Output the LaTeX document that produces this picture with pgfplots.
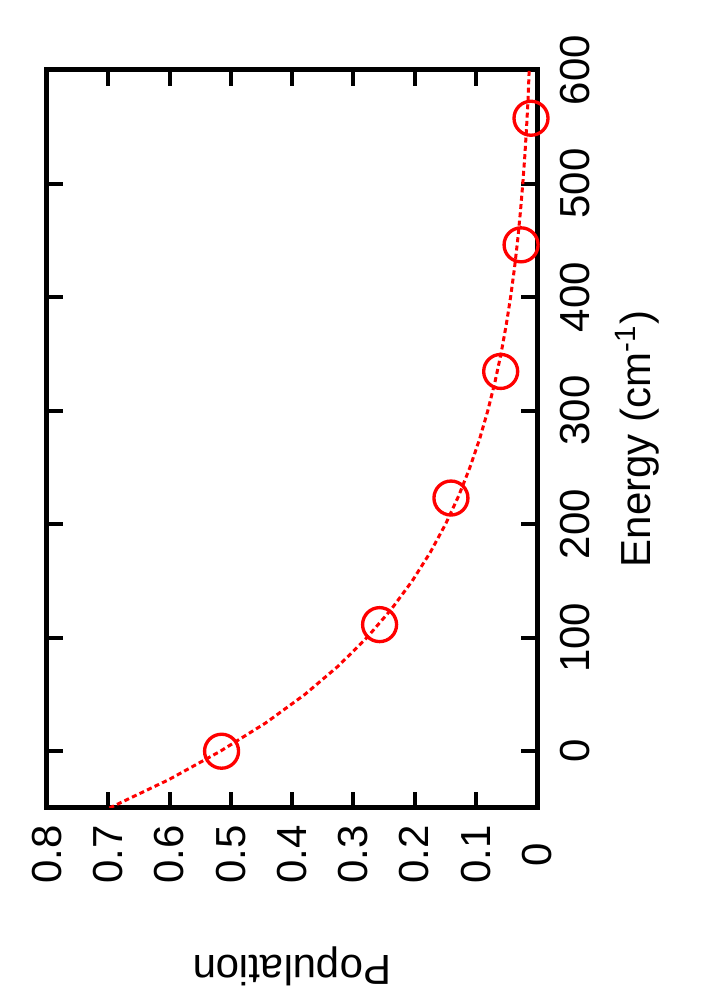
\documentclass[border=0pt]{standalone}
\usepackage{fontspec}
\setmainfont{Liberation Sans}
\usepackage{pgfplots}
\pgfplotsset{compat=1.18}
\begin{document}
\begin{tikzpicture}
\begin{axis}[
  name=ax,
  scale only axis, width=147pt, height=221.4pt,
  x dir=reverse,
  xmin=0, xmax=0.8, ymin=-50, ymax=600,
  xtick={0,0.1,0.2,0.3,0.4,0.5,0.6,0.7,0.8},
  xticklabels={0,0.1,0.2,0.3,0.4,0.5,0.6,0.7,0.8},
  ytick={0,100,200,300,400,500,600},
  tick align=inside,
  xtick pos=both, ytick pos=both,
  xticklabel pos=lower, yticklabel pos=upper,
  axis line style={line width=1.5pt},
  major tick style={line width=1.2pt, black},
  major tick length=4.8pt,
  /pgf/number format/assume math mode=true,
  tick label style={font=\fontsize{12.6}{14}\selectfont},
  label style={font=\fontsize{12.6}{14}\selectfont},
  xticklabel style={rotate=90, anchor=center},
  yticklabel style={rotate=90, anchor=center},
  xticklabel shift=14pt,
  yticklabel shift=11.4pt,
  xlabel={Population},
  ylabel={Energy (cm\textsuperscript{-1})},
  xlabel style={rotate=180, anchor=base, at={(axis description cs:0.5,-0.1992)}},
  ylabel style={rotate=0, anchor=base, at={(axis description cs:1.2306,0.5)}},
]
\addplot[red, line width=0.9pt, dash pattern=on 1.5pt off 1pt, no markers] coordinates {
(0.698,-50)(0.601,-25)(0.517,0)(0.4427,25)(0.3790,50)(0.3245,75)(0.2778,100)(0.2379,125)(0.2037,150)(0.1744,175)(0.1493,200)(0.1278,225)(0.1095,250)(0.0937,275)(0.0803,300)(0.0687,325)(0.0588,350)(0.0504,375)(0.0431,400)(0.0369,425)(0.0316,450)(0.0271,475)(0.0232,500)(0.0198,525)(0.0170,550)(0.0145,575)(0.0128,600)
};
\addplot[red, only marks, mark=o, mark size=5.1pt, mark options={line width=1pt}] coordinates {
(0.515,0)(0.257,111.5)(0.1405,223)(0.0593,334.5)(0.026,446)(0.0098,557.5)
};
\end{axis}
\pgfresetboundingbox
\path[use as bounding box] ([xshift=-14.1pt,yshift=-57.6pt]ax.south west) rectangle ([xshift=48.9pt,yshift=21pt]ax.north east);
\end{tikzpicture}
\end{document}
